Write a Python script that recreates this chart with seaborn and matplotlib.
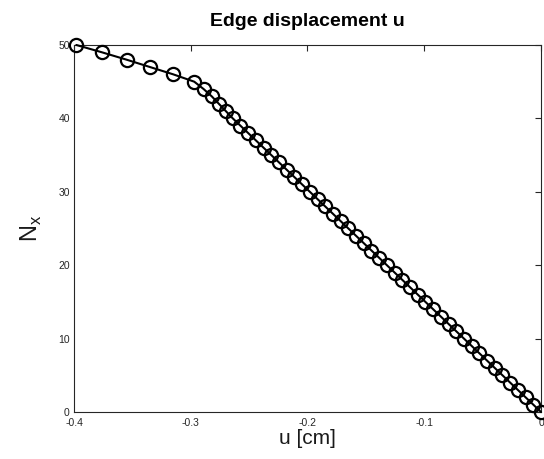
import matplotlib
matplotlib.use("Agg")
import matplotlib.pyplot as plt
import seaborn as sns
import pandas as pd

# Load levels N_x
nx = list(range(0, 51))
# Edge displacement u [cm]
u = [0.0, -0.0066, -0.0132, -0.0198, -0.0264, -0.0330, -0.0396, -0.0462, -0.0528, -0.0594,
     -0.0660, -0.0726, -0.0792, -0.0858, -0.0924, -0.0990, -0.1056, -0.1122, -0.1188, -0.1254,
     -0.1320, -0.1386, -0.1452, -0.1518, -0.1584, -0.1650, -0.1716, -0.1782, -0.1848, -0.1914,
     -0.1980, -0.2046, -0.2112, -0.2178, -0.2244, -0.2310, -0.2376, -0.2442, -0.2508, -0.2574,
     -0.2640, -0.2700, -0.2760, -0.2820, -0.2890, -0.2970, -0.3150, -0.3350, -0.3550, -0.3760,
     -0.3980]
xticks = [-0.4, -0.3, -0.2, -0.1, 0]
xticklabels = ["-0.4", "-0.3", "-0.2", "-0.1", "0"]
yticks = [0, 10, 20, 30, 40, 50]

df = pd.DataFrame({"u": u, "Nx": nx})

sns.set_theme(style="white")
plt.rcParams["font.family"] = ["Liberation Sans", "DejaVu Sans"]

fig = plt.figure(figsize=(5.44, 4.59), dpi=100)
ax = fig.add_axes([0.136, 0.1024, 0.8585, 0.7996])

sns.lineplot(data=df, x="u", y="Nx", ax=ax, color="black", linewidth=1.5,
             marker="o", markersize=9.5, markerfacecolor="none",
             markeredgecolor="black", markeredgewidth=1.6, sort=False,
             clip_on=False, zorder=5)

ax.set_xlim(-0.4, 0)
ax.set_ylim(0, 50)
ax.set_xticks(xticks)
ax.set_xticklabels(xticklabels)
ax.set_yticks(yticks)
for s in ax.spines.values():
    s.set_visible(True)
    s.set_color("#262626")
    s.set_linewidth(0.8)
ax.tick_params(direction="in", length=4, width=0.8, colors="#262626",
               top=True, right=True, labelsize=7.5, pad=3)
ax.tick_params(axis="x", pad=4)

ax.set_title("Edge displacement u", fontsize=14, fontweight="bold", pad=14, color="black")
ax.set_xlabel("u [cm]", fontsize=15, labelpad=1, color="#1a1a1a")
ax.set_ylabel(r"N$_{\mathregular{x}}$", fontsize=17, labelpad=10, color="#1a1a1a")
ax.grid(False)

fig.savefig("out.png", dpi=100)
